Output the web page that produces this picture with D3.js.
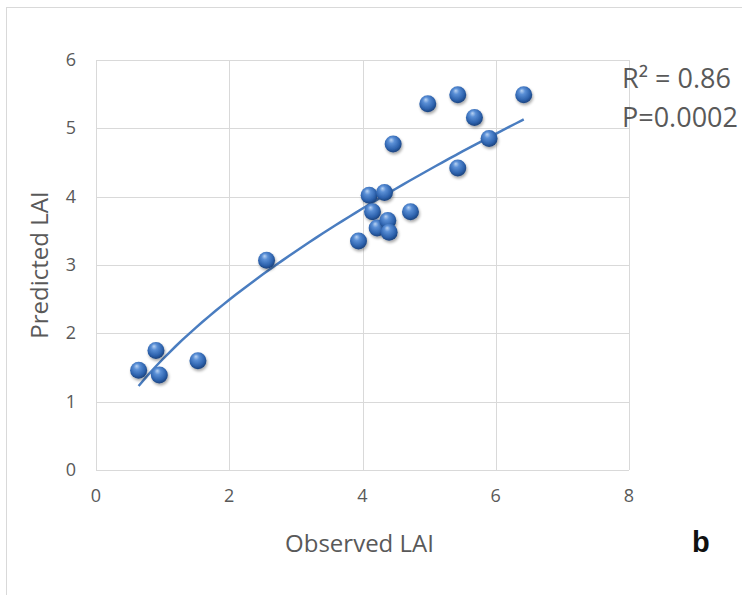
<!DOCTYPE html>
<html>
<head>
<meta charset="utf-8">
<script src="https://cdn.jsdelivr.net/npm/d3@7"></script>
<style>
  body { margin: 0; background: #fff; }
  svg { display: block; font-family: "Open Sans", sans-serif; }
</style>
</head>
<body>
<svg id="chart"></svg>
<script>
// observed vs predicted LAI
var observed  = [0.64, 0.90, 0.95, 1.53, 2.56, 3.94, 4.10, 4.15, 4.22, 4.33, 4.38, 4.40, 4.46, 4.72, 4.98, 5.43, 5.43, 5.68, 5.90, 6.42];
var predicted = [1.46, 1.75, 1.39, 1.60, 3.07, 3.35, 4.02, 3.78, 3.54, 4.06, 3.65, 3.48, 4.77, 3.78, 5.36, 5.49, 4.42, 5.16, 4.85, 5.49];
var xTicks = [0, 2, 4, 6, 8];
var yTicks = [0, 1, 2, 3, 4, 5, 6];
var statLines = ["R² = 0.86", "P=0.0002"];

var W = 742, H = 595;
var margin = {top: 60, right: 113, bottom: 125, left: 96},
    width = W - margin.left - margin.right,
    height = H - margin.top - margin.bottom;

var svg = d3.select("#chart").attr("width", W).attr("height", H);

var x = d3.scaleLinear().domain([0, 8]).range([0, width]),
    y = d3.scaleLinear().domain([0, 6]).range([height, 0]);

var defs = svg.append("defs");
var grad = defs.append("radialGradient")
    .attr("id", "ball")
    .attr("cx", "45%").attr("cy", "40%").attr("r", "60%")
    .attr("fx", "38%").attr("fy", "25%");
grad.append("stop").attr("offset", "0%").attr("stop-color", "#b9d3f3");
grad.append("stop").attr("offset", "30%").attr("stop-color", "#5a8fd6");
grad.append("stop").attr("offset", "75%").attr("stop-color", "#2d62ad");
grad.append("stop").attr("offset", "100%").attr("stop-color", "#1b427c");

var shadow = defs.append("filter").attr("id", "shadow")
    .attr("x", "-50%").attr("y", "-50%").attr("width", "200%").attr("height", "200%");
shadow.append("feGaussianBlur").attr("in", "SourceAlpha").attr("stdDeviation", 1.5);
shadow.append("feOffset").attr("dx", 0.5).attr("dy", 2).attr("result", "off");
shadow.append("feComponentTransfer").append("feFuncA").attr("type", "linear").attr("slope", 0.35);
var merge = shadow.append("feMerge");
merge.append("feMergeNode");
merge.append("feMergeNode").attr("in", "SourceGraphic");

// outer chart frame
svg.append("rect")
    .attr("x", 6.5).attr("y", 7.5)
    .attr("width", W).attr("height", H)
    .attr("fill", "none")
    .attr("stroke", "#d9d9d9");

var g = svg.append("g")
    .attr("transform", "translate(" + margin.left + "," + margin.top + ")");

// gridlines
g.append("g").selectAll("line").data(xTicks).join("line")
    .attr("x1", d => Math.round(x(d)) + 0.5).attr("x2", d => Math.round(x(d)) + 0.5)
    .attr("y1", 0).attr("y2", height)
    .attr("stroke", "#d9d9d9");
g.append("g").selectAll("line").data(yTicks).join("line")
    .attr("y1", d => Math.round(y(d)) + 0.5).attr("y2", d => Math.round(y(d)) + 0.5)
    .attr("x1", 0).attr("x2", width)
    .attr("stroke", "#d9d9d9");

// tick labels
g.append("g").selectAll("text").data(xTicks).join("text")
    .attr("x", d => x(d)).attr("y", height + 32)
    .attr("text-anchor", "middle")
    .attr("font-size", 18).attr("fill", "#595959")
    .text(d => d);
g.append("g").selectAll("text").data(yTicks).join("text")
    .attr("x", -20).attr("y", d => y(d) + 6)
    .attr("text-anchor", "end")
    .attr("font-size", 18).attr("fill", "#595959")
    .text(d => d);

// power trendline  y = a * x^b (least squares on logs)
var lx = observed.map(Math.log), ly = predicted.map(Math.log);
var mx = d3.mean(lx), my = d3.mean(ly);
var b = d3.sum(lx, (v, i) => (v - mx) * (ly[i] - my)) / d3.sum(lx, v => (v - mx) * (v - mx));
var a = Math.exp(my - b * mx);
var xs = d3.ticks(d3.min(observed), d3.max(observed), 80);
xs.unshift(d3.min(observed)); xs.push(d3.max(observed));
g.append("path")
    .datum(xs)
    .attr("fill", "none")
    .attr("stroke", "#4a7dc0")
    .attr("stroke-width", 2.5)
    .attr("d", d3.line().x(d => x(d)).y(d => y(a * Math.pow(d, b))));

// points
g.append("g").selectAll("circle").data(observed).join("circle")
    .attr("cx", d => x(d))
    .attr("cy", (d, i) => y(predicted[i]))
    .attr("r", 8.5)
    .attr("fill", "url(#ball)")
    .attr("filter", "url(#shadow)");

// axis titles
svg.append("text")
    .attr("x", margin.left + width / 2 - 3).attr("y", 552)
    .attr("text-anchor", "middle")
    .attr("font-size", 24).attr("fill", "#595959")
    .text("Observed LAI");
svg.append("text")
    .attr("transform", "translate(48," + (margin.top + height / 2) + ") rotate(-90)")
    .attr("text-anchor", "middle")
    .attr("font-size", 24).attr("fill", "#595959")
    .text("Predicted LAI");

// stats
svg.append("g").selectAll("text").data(statLines).join("text")
    .attr("x", 622).attr("y", (d, i) => 88 + i * 39)
    .attr("font-size", 27).attr("fill", "#595959")
    .text(d => d);

svg.append("text")
    .attr("x", 692).attr("y", 552)
    .attr("font-family", "'Liberation Sans', Arial, sans-serif")
    .attr("font-weight", "bold")
    .attr("font-size", 29).attr("fill", "#111")
    .text("b");
</script>
</body>
</html>
